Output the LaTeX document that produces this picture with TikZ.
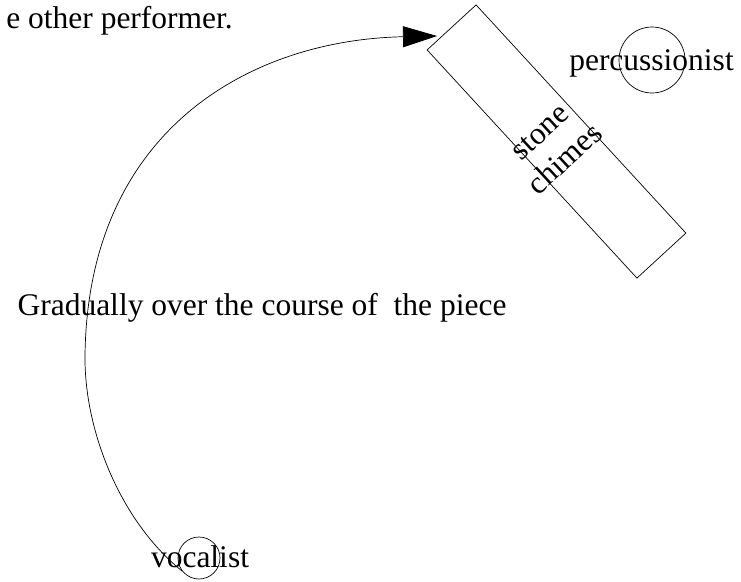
\documentclass[tikz,border=0pt]{standalone}
\usepackage{fontspec}
\setmainfont{Liberation Serif}
\usetikzlibrary{arrows.meta}
\tikzset{
  lbl/.style={inner sep=0pt, font=\fontsize{31.5}{37}\selectfont},
  performer/.style={draw, circle, line width=0.7pt, inner sep=0pt},
  chimebox/.style={draw, rectangle, line width=0.7pt, inner sep=0pt},
  move/.style={line width=0.7pt, -{Triangle[length=34pt,width=21pt]}},
}
\begin{document}
\begin{tikzpicture}[x=1pt, y=-1pt]
\useasboundingbox (0,0) rectangle (741,581);
% performers
\node[performer, minimum size=42pt] (vocal) at (199,558) {};
\node[lbl, anchor=base] (vocaltext) at (200,567) {vocalist};
\node[performer, minimum size=66pt] (perc) at (652,60) {};
\node[lbl, anchor=base] (perctext) at (651.5,70) {percussionist};
% stone chimes
\node[chimebox, rotate=42.6, minimum width=66.5pt, minimum height=310pt] (chimes) at (556.5,141.5) {};
\node[lbl, rotate=42.6, align=center] (chimestext) at (553,146) {stone\\chimes};
% texts
\node[lbl, anchor=base east] (topnote) at (233,28) {e other performer.};
\node[lbl, anchor=base] (gradual) at (262,315) {Gradually over the course of \ the piece};
% movement arrow
\coordinate (arrowtip) at (437,36);
\draw[move] (vocal.218) .. controls (120,521) and (84,430) .. (85,355)
  .. controls (88,130) and (250,40) .. (arrowtip);
\end{tikzpicture}
\end{document}
